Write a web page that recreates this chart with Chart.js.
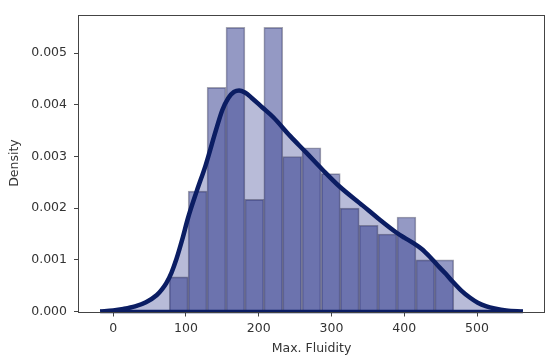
<!DOCTYPE html>
<html>
<head>
<meta charset="utf-8">
<script src="https://cdn.jsdelivr.net/npm/chart.js@4"></script>
<style>
    html, body { margin: 0; padding: 0; background: #fff; }
    #wrap { width: 547px; height: 361px; }
</style>
</head>
<body>
<div id="wrap"><canvas id="chart" width="547" height="361"></canvas></div>
<script>
// histogram bins (edges) and density of each bin
const binEdges = [77, 103, 129, 155, 181, 207, 233, 259, 286, 312, 338, 364, 390, 416, 442, 468];
const binDensity = [0.00067, 0.00233, 0.00434, 0.0055, 0.00217, 0.0055, 0.003, 0.00317, 0.00267, 0.002, 0.00167, 0.0015, 0.00183, 0.001, 0.001];

// kde curve
const kdeX = [-18, 0, 14, 30, 45, 60, 67, 73, 80, 87, 95, 103, 115, 127, 141, 150, 158, 166, 173, 181, 190, 205, 220, 243, 265, 288, 311, 343, 366, 389, 400, 412, 424, 435, 446, 457, 467, 478, 490, 501, 513, 524, 540, 563];
const kdeY = [0, 0.00002, 0.00005, 0.0001, 0.00018, 0.00032, 0.00043, 0.00055, 0.00075, 0.00102, 0.0014, 0.00182, 0.00234, 0.00283, 0.0035, 0.0039, 0.00413, 0.00425, 0.00428, 0.00424, 0.00414, 0.00395, 0.00376, 0.0034, 0.00308, 0.00274, 0.00242, 0.00205, 0.00178, 0.00153, 0.00143, 0.00133, 0.00121, 0.00106, 0.00089, 0.00073, 0.00057, 0.00041, 0.00027, 0.00017, 0.0001, 0.00006, 0.00002, 0];

const xTicks = [0, 100, 200, 300, 400, 500];
const yTicks = [0, 0.001, 0.002, 0.003, 0.004, 0.005];

const lineColor = '#0b1d63';
const textColor = '#333';
const axisColor = '#444';

const bars = binDensity.map((d, i) => ({ x: (binEdges[i] + binEdges[i + 1]) / 2, y: d }));
const kde = kdeX.map((x, i) => ({ x: x, y: kdeY[i] }));
const baseLine = [{ x: kdeX[0], y: 0 }, { x: kdeX[kdeX.length - 1], y: 0 }];

// frame round the plot, like matplotlib spines
const frame = {
    id: 'frame',
    afterDraw(c) {
        const a = c.chartArea;
        const ctx = c.ctx;
        ctx.save();
        ctx.strokeStyle = axisColor;
        ctx.lineWidth = 1;
        ctx.strokeRect(Math.round(a.left) - 0.5, Math.round(a.top) + 0.5, Math.round(a.right - a.left) + 1, Math.round(a.bottom - a.top));
        ctx.restore();
    }
};

const font = { family: 'DejaVu Sans', size: 12.5 };

new Chart(document.getElementById('chart'), {
    data: {
        datasets: [
            {
                type: 'line',
                data: kde,
                borderWidth: 0,
                pointRadius: 0,
                fill: 'origin',
                backgroundColor: 'rgba(12, 22, 120, 0.29)',
                cubicInterpolationMode: 'monotone',
                order: 3,
            },
            {
                type: 'bar',
                data: bars,
                backgroundColor: 'rgba(12, 22, 120, 0.44)',
                borderColor: 'rgba(20, 20, 50, 0.38)',
                borderWidth: 1,
                barPercentage: 1,
                categoryPercentage: 1,
                order: 2,
            },
            {
                type: 'line',
                data: baseLine,
                borderColor: lineColor,
                borderWidth: 3.5,
                pointRadius: 0,
                clip: false,
                order: 1,
            },
            {
                type: 'line',
                data: kde,
                borderColor: lineColor,
                borderWidth: 4.5,
                pointRadius: 0,
                fill: false,
                cubicInterpolationMode: 'monotone',
                order: 0,
            },
        ],
    },
    options: {
        responsive: false,
        devicePixelRatio: 1,
        animation: false,
        layout: {
            padding: { top: 7, right: 3, left: 0, bottom: 0 },
        },
        plugins: {
            legend: { display: false },
            tooltip: { enabled: false },
        },
        scales: {
            x: {
                type: 'linear',
                offset: false,
                min: -47,
                max: 592,
                afterBuildTicks: (s) => { s.ticks = xTicks.map(v => ({ value: v })); },
                afterFit: (s) => { s.height = 49.5; },
                border: { display: false },
                grid: { offset: false, drawOnChartArea: false, tickLength: 5, tickColor: axisColor },
                ticks: { color: textColor, font: font, padding: 5, maxRotation: 0 },
                title: { display: true, text: 'Max. Fluidity', color: textColor, font: font, padding: { top: 0, bottom: 5 } },
            },
            y: {
                min: 0,
                max: 0.00575,
                afterBuildTicks: (s) => { s.ticks = yTicks.map(v => ({ value: v })); },
                afterFit: (s) => { s.width = 79; },
                border: { display: false },
                grid: { drawOnChartArea: false, tickLength: 5, tickColor: axisColor },
                ticks: { color: textColor, font: font, padding: 7, callback: (v) => v.toFixed(3) },
                title: { display: true, text: 'Density', color: textColor, font: font, padding: { top: 7, bottom: 0 } },
            },
        },
    },
    plugins: [frame],
});
</script>
</body>
</html>
